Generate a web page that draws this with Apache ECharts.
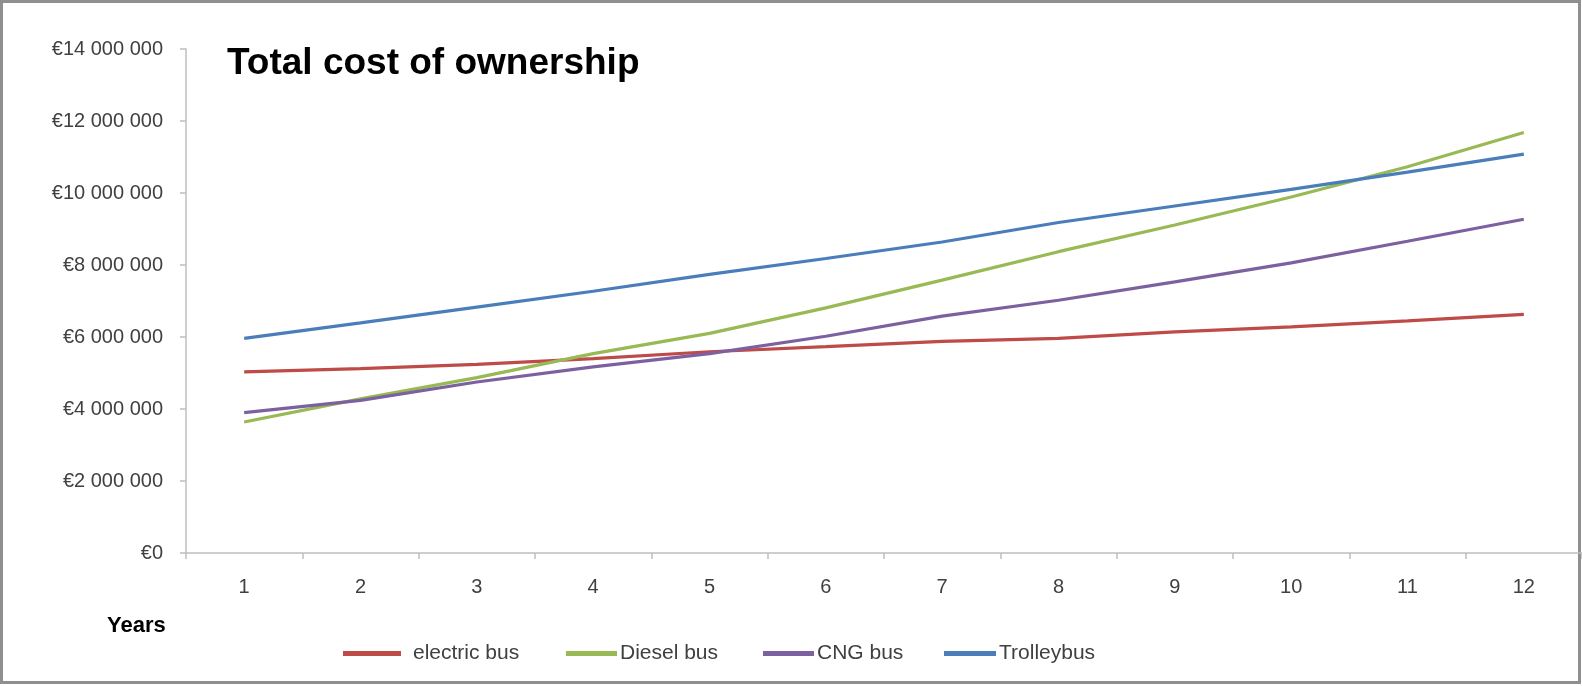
<!DOCTYPE html>
<html>
<head>
<meta charset="utf-8">
<script src="https://cdn.jsdelivr.net/npm/echarts@6/dist/echarts.min.js"></script>
<style>html,body{margin:0;padding:0;background:#fff}#c{width:1582px;height:686px}</style>
</head>
<body>
<div id="c"></div>
<script>
const years = ['1','2','3','4','5','6','7','8','9','10','11','12'];
const electricBus = [5030000, 5120000, 5240000, 5400000, 5590000, 5730000, 5880000, 5960000, 6140000, 6280000, 6450000, 6630000];
const dieselBus   = [3640000, 4280000, 4870000, 5540000, 6100000, 6810000, 7580000, 8370000, 9110000, 9890000, 10730000, 11680000];
const cngBus      = [3900000, 4240000, 4750000, 5170000, 5540000, 6020000, 6580000, 7020000, 7530000, 8060000, 8660000, 9270000];
const trolleybus  = [5960000, 6390000, 6830000, 7270000, 7740000, 8180000, 8640000, 9180000, 9640000, 10100000, 10580000, 11080000];
const seriesNames = ['electric bus', 'Diesel bus', 'CNG bus', 'Trolleybus'];
const colors = ['#BE4B48', '#98B954', '#7D60A0', '#4A7EBB'];

function euro(v) {
  const s = String(Math.round(v)).replace(/\B(?=(\d{3})+(?!\d))/g, ' ');
  return '€' + s;
}

const chart = echarts.init(document.getElementById('c'));
const font = 'Liberation Sans, Arial, sans-serif';
const mk = (name, data, color) => ({
  name, type: 'line', data, symbol: 'none', smooth: false,
  lineStyle: { color, width: 3.2 }, itemStyle: { color }
});
const legendPos = [
  { left: 343, w: 58, pad: 7 },
  { left: 566, w: 51, pad: -2 },
  { left: 763, w: 51, pad: -2 },
  { left: 944, w: 52, pad: -2 }
];
const legends = seriesNames.map((n, i) => ({
  data: [n],
  left: legendPos[i].left, top: 643,
  padding: 0,
  itemWidth: legendPos[i].w, itemHeight: 5,
  icon: 'rect',
  textStyle: { fontFamily: font, fontSize: 21, color: '#404040', padding: [0, 0, 0, legendPos[i].pad] }
}));
chart.setOption({
  animation: false,
  backgroundColor: '#fff',
  color: colors,
  title: {
    text: 'Total cost of ownership',
    left: 222, top: 40,
    textStyle: { fontFamily: font, fontSize: 37, fontWeight: 'bold', color: '#000' }
  },
  legend: legends,
  graphic: [
    { type: 'rect', shape: { x: 1.5, y: 1.5, width: 1578, height: 681 },
      style: { fill: 'none', stroke: '#8f8f8f', lineWidth: 3 }, silent: true },
    { type: 'text', left: 107, top: 615,
      style: { text: 'Years', fontFamily: font, fontSize: 22, fontWeight: 'bold', fill: '#000' } }
  ],
  grid: { left: 186, top: 49, width: 1397, bottom: 133, containLabel: false },
  xAxis: {
    type: 'category', data: years, boundaryGap: true,
    axisLine: { lineStyle: { color: '#BFBFBF', width: 1.5 } },
    axisTick: { show: true, length: 6, alignWithLabel: false, lineStyle: { color: '#BFBFBF', width: 1.5 } },
    axisLabel: { margin: 24, fontFamily: font, fontSize: 20, color: '#404040' },
    splitLine: { show: false }
  },
  yAxis: {
    type: 'value', min: 0, max: 14000000, interval: 2000000,
    axisLine: { show: true, lineStyle: { color: '#BFBFBF', width: 1.5 } },
    axisTick: { show: true, length: 6, lineStyle: { color: '#BFBFBF', width: 1.5 } },
    axisLabel: { margin: 23, fontFamily: font, fontSize: 20, color: '#404040', formatter: euro },
    splitLine: { show: false }
  },
  series: [
    mk(seriesNames[0], electricBus, colors[0]),
    mk(seriesNames[1], dieselBus, colors[1]),
    mk(seriesNames[2], cngBus, colors[2]),
    mk(seriesNames[3], trolleybus, colors[3])
  ]
});
</script>
</body>
</html>
